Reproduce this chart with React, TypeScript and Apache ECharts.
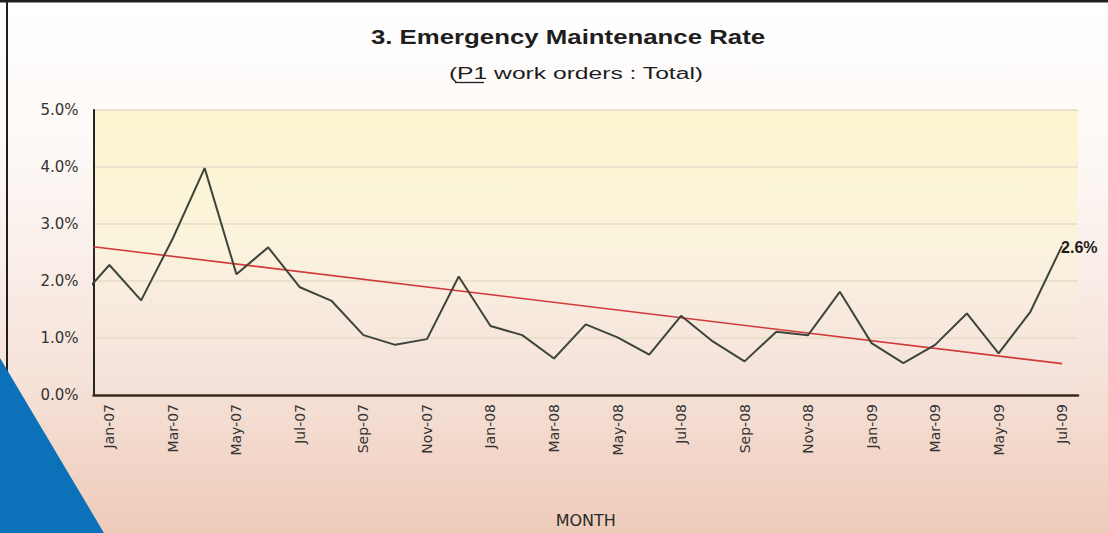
import React, { useEffect, useRef } from "react";
import * as echarts from "echarts";

const months = [
  "Jan-07", "Feb-07", "Mar-07", "Apr-07", "May-07", "Jun-07", "Jul-07", "Aug-07", "Sep-07", "Oct-07", "Nov-07", "Dec-07",
  "Jan-08", "Feb-08", "Mar-08", "Apr-08", "May-08", "Jun-08", "Jul-08", "Aug-08", "Sep-08", "Oct-08", "Nov-08", "Dec-08",
  "Jan-09", "Feb-09", "Mar-09", "Apr-09", "May-09", "Jun-09", "Jul-09",
];

// Emergency maintenance rate, % (P1 work orders : Total)
const rates = [
  2.28, 1.66, 2.75, 3.98, 2.12, 2.59, 1.89, 1.65, 1.05, 0.88, 0.98, 2.08,
  1.21, 1.05, 0.64, 1.24, 1.01, 0.71, 1.39, 0.94, 0.59, 1.11, 1.05, 1.81,
  0.91, 0.56, 0.88, 1.43, 0.73, 1.46, 2.62,
];

// previous month (Dec-06), only its clipped segment is visible
const previousRate = 1.66;

// linear trend, value at the left edge of the plot and at the last month
const trendStart = 2.6;
const trendEnd = 0.55;

const yTicks = [0, 1, 2, 3, 4, 5];

const FONT = "Liberation Sans, Arial, sans-serif";
const WIDE = "DejaVu Sans, sans-serif";

export default function App() {
  const ref = useRef<HTMLDivElement>(null);

  useEffect(() => {
    if (!ref.current) return;
    const chart = echarts.init(ref.current, null, { renderer: "svg" });
    const last = rates.length - 1;
    const lineData: [number, number][] = [[-1, previousRate], ...rates.map((v, i) => [i, v] as [number, number])];
    const trendData: [number, number][] = [[-0.5, trendStart], [last, trendEnd]];

    chart.setOption({
      animation: false,
      backgroundColor: new echarts.graphic.LinearGradient(0, 0, 0, 1, [
        { offset: 0, color: "#ffffff" },
        { offset: 0.3, color: "#fdf8f5" },
        { offset: 0.7, color: "#f6e3da" },
        { offset: 1, color: "#eecbb9" },
      ]),
      grid: {
        left: 93.5,
        right: 30,
        top: 110,
        bottom: 136,
        show: true,
        borderWidth: 0,
        backgroundColor: new echarts.graphic.LinearGradient(0, 0, 0, 1, [
          { offset: 0, color: "#fbf5cf" },
          { offset: 0.45, color: "#fbf4dc" },
          { offset: 0.7, color: "#f8eadf" },
          { offset: 1, color: "#f4e1da" },
        ]),
      },
      xAxis: [
        {
          type: "category",
          data: months,
          boundaryGap: true,
          name: "MONTH",
          nameLocation: "middle",
          nameGap: 117,
          nameTextStyle: { fontFamily: WIDE, fontSize: 16, color: "#2a2a2a" },
          axisLine: { lineStyle: { color: "#3a2a22", width: 2.5 } },
          axisTick: { show: false },
          axisLabel: {
            interval: 1,
            rotate: 90,
            margin: 9,
            fontFamily: WIDE,
            fontSize: 14,
            color: "#333333",
          },
          splitLine: { show: false },
        },
        {
          type: "value",
          min: -0.5,
          max: last + 0.5,
          show: false,
          splitLine: { show: false },
        },
      ],
      yAxis: {
        type: "value",
        min: yTicks[0],
        max: yTicks[yTicks.length - 1],
        interval: 1,
        axisLine: { show: true, onZero: false, lineStyle: { color: "#2a2420", width: 2 } },
        axisTick: { show: false },
        axisLabel: {
          margin: 15,
          fontFamily: WIDE,
          fontSize: 15,
          color: "#333333",
          formatter: (v: number) => v.toFixed(1) + "%",
        },
        splitLine: { show: true, lineStyle: { color: "#e6dcc6", width: 1.5 } },
      },
      series: [
        {
          name: "Trend",
          type: "line",
          xAxisIndex: 1,
          data: trendData,
          symbol: "none",
          silent: true,
          lineStyle: { color: "#d23a3a", width: 1.6 },
          z: 2,
        },
        {
          name: "Emergency Maintenance Rate",
          type: "line",
          xAxisIndex: 1,
          data: lineData,
          clip: true,
          symbol: "none",
          lineStyle: { color: "#3d453a", width: 2 },
          endLabel: {
            show: true,
            formatter: (p: any) => (p.value[1] as number).toFixed(1) + "%",
            fontFamily: FONT,
            fontSize: 16,
            fontWeight: "bold",
            color: "#1a1a1a",
            distance: 0,
            offset: [-1, 2],
          },
          z: 3,
        },
      ],
      graphic: [
        {
          type: "text",
          x: 568,
          y: 37,
          scaleX: 1.29,
          style: {
            text: "3. Emergency Maintenance Rate",
            fontFamily: FONT,
            fontSize: 20,
            fontWeight: "bold",
            fill: "#1e1e1e",
            align: "center",
            verticalAlign: "middle",
          },
        },
        {
          type: "text",
          x: 576,
          y: 73,
          scaleX: 1.54,
          style: {
            text: "(P1 work orders : Total)",
            fontFamily: FONT,
            fontSize: 16,
            fill: "#1e1e1e",
            align: "center",
            verticalAlign: "middle",
          },
        },
        {
          type: "line",
          shape: { x1: 455, y1: 82.5, x2: 484, y2: 82.5 },
          style: { stroke: "#1e1e1e", lineWidth: 1.3 },
        },
        {
          type: "rect",
          shape: { x: 0, y: 0, width: 1108, height: 2.5 },
          style: { fill: "#1f1f1f" },
        },
        {
          type: "rect",
          shape: { x: 6, y: 0, width: 2, height: 380 },
          style: { fill: "#1f1f1f" },
        },
        {
          type: "polygon",
          shape: { points: [[0, 358], [104, 533], [0, 533]] },
          style: { fill: "#0b72b9" },
          z: 10,
        },
      ],
    });

    return () => chart.dispose();
  }, []);

  return (
    <div
      ref={ref}
      style={{ position: "fixed", left: 0, top: 0, width: 1108, height: 533 }}
    />
  );
}
